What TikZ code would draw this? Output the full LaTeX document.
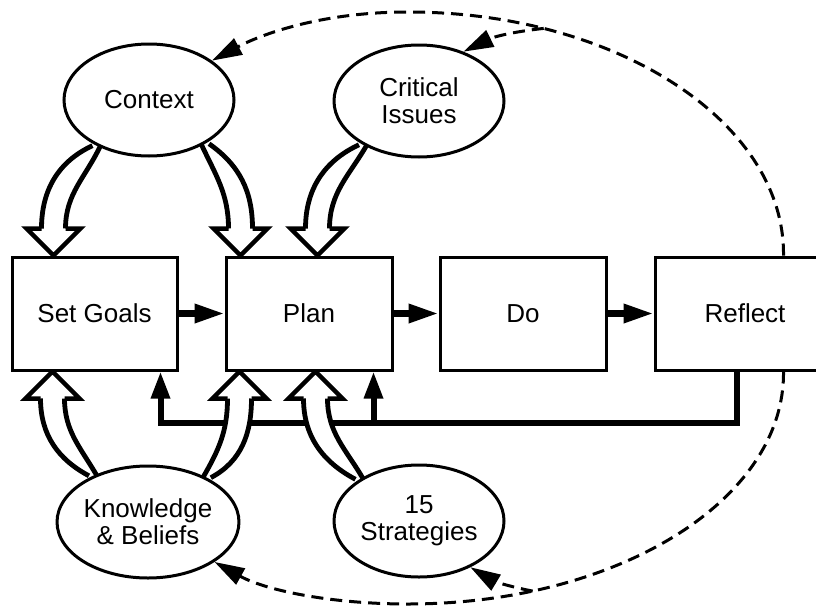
\documentclass[tikz,border=0pt]{standalone}
\usepackage{fontspec}
\setmainfont{Liberation Sans}
\usetikzlibrary{arrows.meta,shapes.geometric,calc}
\pgfdeclarelayer{fblayer}
\pgfdeclarelayer{shlayer}
\pgfsetlayers{fblayer,shlayer,main}
\newcommand{\hollowdn}[4]{%
  \draw[hhead] (#4) -- ++(-27,27) -- ++(54,0) -- cycle;
  \fill[white] ($(#1)+(-4,0)$) to[out=#2,in=90] ($(#4)+(-12,27)$) -- ($(#4)+(-12,24)$) -- ($(#4)+(12,24)$) -- ($(#4)+(12,27)$) to[out=90,in=#3] ($(#1)+(4,0)$) -- cycle;
  \draw[hline] ($(#1)+(-4,0)$) to[out=#2,in=90] ($(#4)+(-12,27)$);
  \draw[hline] ($(#1)+(4,0)$) to[out=#3,in=90] ($(#4)+(12,27)$);
}
\newcommand{\hollowup}[4]{%
  \draw[hhead] (#4) -- ++(-27,-27) -- ++(54,0) -- cycle;
  \fill[white] ($(#1)+(-4,0)$) to[out=#2,in=-90] ($(#4)+(-12,-27)$) -- ($(#4)+(-12,-24)$) -- ($(#4)+(12,-24)$) -- ($(#4)+(12,-27)$) to[out=-90,in=#3] ($(#1)+(4,0)$) -- cycle;
  \draw[hline] ($(#1)+(-4,0)$) to[out=#2,in=-90] ($(#4)+(-12,-27)$);
  \draw[hline] ($(#1)+(4,0)$) to[out=#3,in=-90] ($(#4)+(12,-27)$);
}
\begin{document}
\begin{tikzpicture}[x=1pt,y=1pt,
  box/.style={draw, line width=3pt, fill=white, minimum width=165pt, minimum height=113pt, inner sep=0pt, font=\fontsize{26}{28}\selectfont},
  oval/.style={ellipse, draw, line width=3pt, fill=white, minimum width=170pt, minimum height=112pt, inner sep=0pt, align=center, font=\fontsize{26}{27}\selectfont},
  flow/.style={line width=6.5pt, -{Triangle[length=30pt,width=18pt]}},
  fb/.style={line width=6pt, -{Triangle[length=27pt,width=18pt]}},
  hline/.style={line width=4.8pt},
  hhead/.style={line width=4.5pt, fill=white, line join=miter},
  dashline/.style={line width=3pt, dash pattern=on 12pt off 7pt, -{Triangle[length=30pt,width=18pt]}},
]
\useasboundingbox (0,0) rectangle (816,-608);
\clip (0,0) rectangle (816,-608);

% boxes
\node[box] (sg) at (94.5,-313.5) {Set Goals};
\node[box, minimum width=166pt] (pl) at (309,-313.5) {Plan};
\node[box, minimum width=166pt] (do) at (523,-313.5) {Do};
\node[box, minimum width=180pt] (rf) at (745,-313.5) {Reflect};

% ovals
\node[oval] (ctx) at (149,-100) {Context};
\node[oval] (ci) at (419,-101) {Critical\\Issues};
\node[oval] (kb) at (148,-522) {Knowledge\\\& Beliefs};
\node[oval] (st) at (419,-521) {15\\Strategies};

% hollow arrows
\begin{pgfonlayer}{shlayer}
  \coordinate (t1) at ($(sg.north west)+(43,0)$);
  \coordinate (t2) at ($(pl.north west)+(16,0)$);
  \coordinate (t3) at ($(pl.north west)+(93,0)$);
  \coordinate (t4) at ($(sg.south west)+(42,0)$);
  \coordinate (t5) at ($(pl.south west)+(15,0)$);
  \coordinate (t6) at ($(pl.south west)+(91,0)$);
  \hollowdn{ctx.221}{205}{245}{t1}
  \hollowdn{ctx.322}{-65}{-35}{t2}
  \hollowdn{ci.218}{205}{240}{t3}
  \hollowup{kb.140}{152}{120}{t4}
  \hollowup{kb.37}{60}{28}{t5}
  \hollowup{st.145}{152}{120}{t6}
\end{pgfonlayer}

% flow arrows
\draw[flow] (sg.east) -- (pl.west);
\draw[flow] (pl.east) -- (do.west);
\draw[flow] (do.east) -- (rf.west);

% feedback
\begin{pgfonlayer}{fblayer}
\draw[fb] ($(rf.south west)+(83,0)$) -- ++(0,-51) -| ($(sg.south west)+(150,0)$);
\draw[fb] ($(pl.south west)+(149,-51)$) -- ($(pl.south west)+(149,0)$);
\end{pgfonlayer}

% dashed loops
\coordinate (topmid) at (408,-12);
\coordinate (botmid) at (408,-604);
\draw[dashline] ($(rf.north west)+(130,0)$) .. controls (785,-122) and (616,-12) .. (topmid) coordinate[pos=0.77] (tb) .. controls (320,-12) and (260,-35) .. (ctx.32);
\draw[dashline] (tb) to[bend right=10] (ci.48);
\draw[dashline] ($(rf.south west)+(130,0)$) .. controls (785,-501) and (616,-604) .. (botmid) coordinate[pos=0.79] (bb) .. controls (330,-604) and (265,-590) .. (kb.-31);
\draw[dashline] (bb) to[bend left=10] (st.-42);
\end{tikzpicture}
\end{document}
